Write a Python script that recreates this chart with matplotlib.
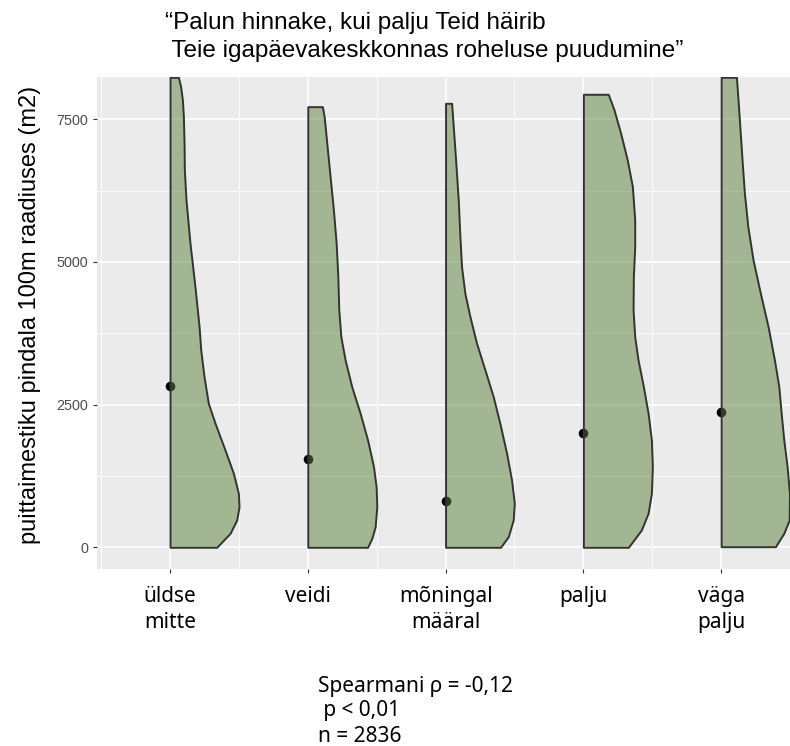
import matplotlib
matplotlib.use("Agg")
import matplotlib.pyplot as plt
from matplotlib.colors import to_rgba

# x categories (two-line labels as in the figure)
categories = ["üldse\nmitte", "veidi", "mõningal\nmääral", "palju", "väga\npalju"]

# mean value per category (black dots)
means = [2826, 1542, 811, 1998, 2376]

# half-violin outlines: y value and half width (x units)
v1_y = [8236, 8071, 7838, 7545, 7079, 6611, 6086, 5327, 4567, 3866, 3457, 2989,
        2523, 2173, 1705, 1297, 946, 711, 478, 245, 0]
v1_w = [0.061, 0.077, 0.090, 0.097, 0.102, 0.104, 0.116, 0.145, 0.181, 0.211, 0.223, 0.247,
        0.278, 0.327, 0.399, 0.460, 0.496, 0.501, 0.484, 0.436, 0.339]

v2_y = [7721, 7545, 7079, 6494, 5911, 5327, 4742, 4158, 3690, 3282, 2814, 2348,
        1880, 1412, 1062, 711, 361, 158, 0]
v2_w = [0.106, 0.119, 0.138, 0.162, 0.186, 0.206, 0.218, 0.225, 0.240, 0.271, 0.319, 0.380,
        0.434, 0.477, 0.496, 0.501, 0.489, 0.465, 0.434]

v3_y = [7780, 7370, 6787, 6086, 5443, 4917, 4451, 4041, 3575, 3107, 2639, 2173,
        1647, 1179, 771, 478, 186, 0]
v3_w = [0.044, 0.056, 0.073, 0.092, 0.104, 0.116, 0.140, 0.177, 0.225, 0.286, 0.346, 0.394,
        0.443, 0.479, 0.499, 0.491, 0.455, 0.399]

v4_y = [7938, 7663, 7254, 6787, 6319, 5735, 5267, 4742, 4158, 3690, 3282, 2814,
        2348, 1880, 1412, 946, 596, 303, 0]
v4_w = [0.181, 0.223, 0.271, 0.319, 0.356, 0.373, 0.373, 0.363, 0.361, 0.373, 0.397, 0.436,
        0.470, 0.494, 0.501, 0.494, 0.470, 0.421, 0.327]

v5_y = [8236, 7838, 7370, 6787, 6203, 5618, 5034, 4451, 3866, 3282, 2814, 2348,
        1880, 1412, 946, 478, 245, 10]
v5_w = [0.111, 0.123, 0.136, 0.152, 0.169, 0.194, 0.232, 0.285, 0.341, 0.387, 0.419, 0.436,
        0.455, 0.479, 0.496, 0.494, 0.455, 0.394]

violin_y = [v1_y, v2_y, v3_y, v4_y, v5_y]
violin_w = [v1_w, v2_w, v3_w, v4_w, v5_w]

y_ticks = [0, 2500, 5000, 7500]

title_lines = ["\u201cPalun hinnake, kui palju Teid häirib",
               " Teie igapäevakeskkonnas roheluse puudumine\u201d"]
y_label = "puittaimestiku pindala 100m raadiuses (m2)"
note_lines = ["Spearmani \u03c1 = -0,12", " p < 0,01", "n = 2836"]

W, H = 790, 746
fig = plt.figure(figsize=(W / 100, H / 100), dpi=100)
ax = fig.add_axes([97 / W, 1 - 569.3 / H, 1 - 97 / W, (569.3 - 76.7) / H])
ax.set_facecolor("#EBEBEB")
for s in ax.spines.values():
    s.set_visible(False)

positions = list(range(1, len(categories) + 1))
ax.set_xlim(0.47, 5.50)
ax.set_ylim(-386, 8246)

# grid (ggplot-like)
ax.set_xticks(positions)
ax.set_xticks([p - 0.5 for p in positions] + [positions[-1] + 0.5], minor=True)
ax.set_yticks(y_ticks)
ax.set_yticks([1250, 3750, 6250], minor=True)
ax.grid(which="major", color="white", linewidth=1.2)
ax.grid(which="minor", color="white", linewidth=0.6)
ax.set_axisbelow(True)
ax.tick_params(which="minor", length=0)
ax.tick_params(which="major", length=3, width=0.8, color="#333333")

ax.set_yticklabels([str(t) for t in y_ticks], family="Liberation Sans",
                   fontsize=10.4, color="#4D4D4D")
ax.tick_params(axis="y", pad=3.5)
ax.set_xticklabels(categories, family="Noto Sans", fontsize=15, color="black",
                   linespacing=1.3)
ax.tick_params(axis="x", pad=9)

# dots first, violins on top (semi-transparent fill)
ax.scatter(positions, means, s=48, color="black", zorder=2, linewidths=0)

fill = to_rgba("#5A823C", 0.5)
for pos, ys, ws in zip(positions, violin_y, violin_w):
    ax.fill_betweenx(ys, pos, [pos + w for w in ws], facecolor=fill,
                     edgecolor="#333333", linewidth=1.4, zorder=3)

fig.text(165 / W, 1 - 28.6 / H, title_lines[0], family="Liberation Sans",
         fontsize=17.5, va="baseline", ha="left")
fig.text(165 / W, 1 - 57 / H, title_lines[1], family="Liberation Sans",
         fontsize=17.5, va="baseline", ha="left")

fig.text(30 / W, 1 - 315 / H, y_label, family="Liberation Sans", fontsize=17,
         rotation=90, ha="center", va="center")

for txt, yb in zip(note_lines, [692, 716, 742]):
    fig.text(318 / W, 1 - yb / H, txt, family="Noto Sans", fontsize=15,
             va="baseline", ha="left")

fig.savefig("out.png", dpi=100)
